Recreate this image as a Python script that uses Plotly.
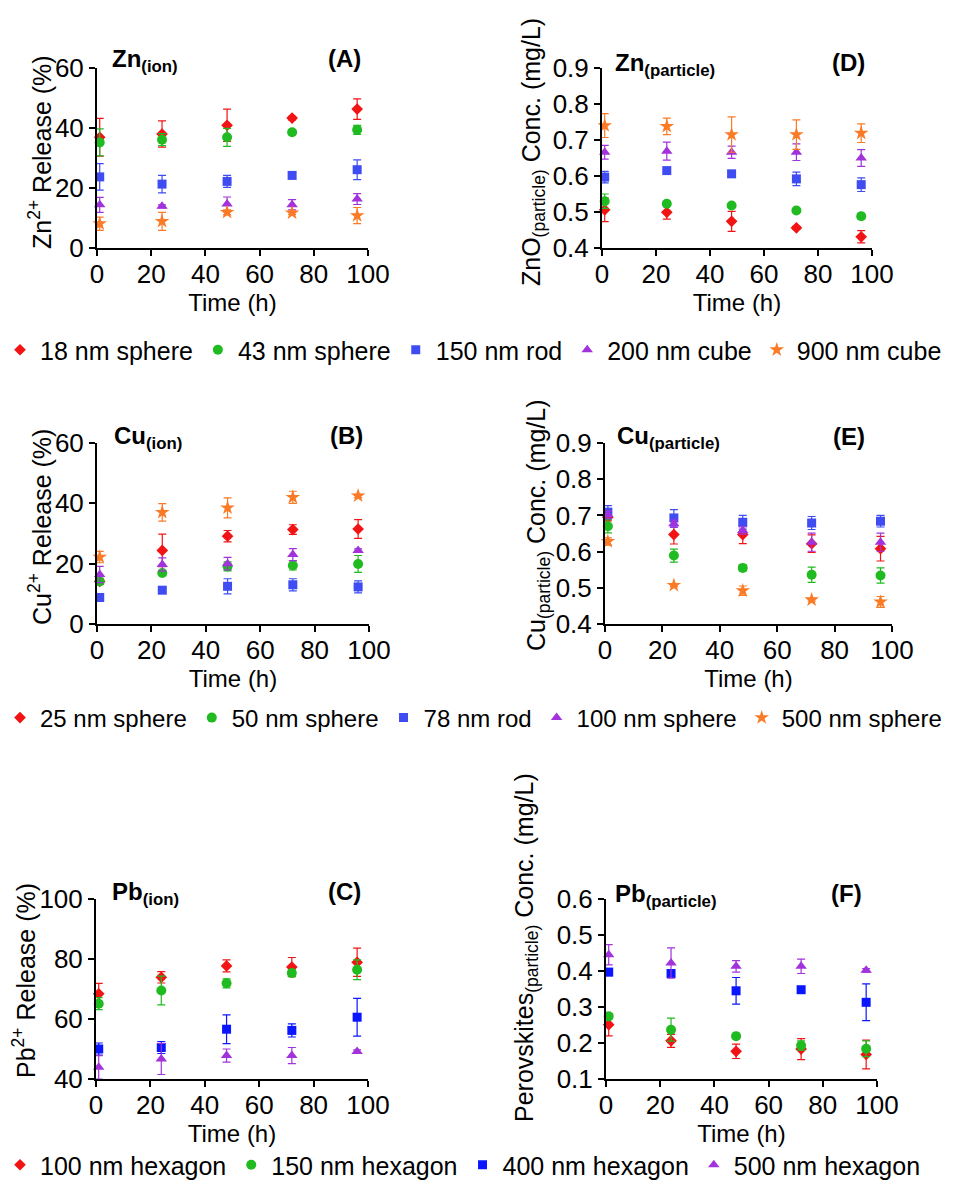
import plotly.graph_objects as go

# ---------------- data ----------------
t = [1, 24, 48, 72, 96]

# Panel A: Zn ion release (%)
zn_ion_labels = ["18 nm sphere", "43 nm sphere", "150 nm rod", "200 nm cube", "900 nm cube"]
zn_ion_18 = [36.9, 38.0, 40.9, 43.3, 46.3]
zn_ion_18_err = [6.3, 4.4, 5.4, 0.6, 3.4]
zn_ion_43 = [35.2, 36.1, 36.9, 38.6, 39.4]
zn_ion_43_err = [4.5, 2.0, 3.0, 0.8, 1.5]
zn_ion_150 = [23.7, 21.3, 22.2, 24.2, 26.1]
zn_ion_150_err = [4.4, 2.9, 2.0, 0.8, 3.3]
zn_ion_200 = [14.4, 13.9, 14.7, 14.4, 16.3]
zn_ion_200_err = [2.5, 0.5, 2.3, 1.7, 1.8]
zn_ion_900 = [8.1, 8.9, 11.9, 11.7, 10.8]
zn_ion_900_err = [2.2, 3.0, 0.8, 0.5, 2.7]

# Panel D: ZnO particle conc. (mg/L)
zn_par_18 = [0.506, 0.499, 0.474, 0.456, 0.431]
zn_par_18_err = [0.033, 0.019, 0.028, 0.004, 0.017]
zn_par_43 = [0.530, 0.523, 0.518, 0.504, 0.488]
zn_par_43_err = [0.020, 0.005, 0.004, 0.004, 0.008]
zn_par_150 = [0.597, 0.615, 0.606, 0.592, 0.576]
zn_par_150_err = [0.016, 0.005, 0.006, 0.019, 0.019]
zn_par_200 = [0.666, 0.669, 0.666, 0.666, 0.650]
zn_par_200_err = [0.019, 0.025, 0.017, 0.023, 0.023]
zn_par_900 = [0.740, 0.738, 0.715, 0.715, 0.719]
zn_par_900_err = [0.033, 0.023, 0.049, 0.041, 0.026]

# Panel B: Cu ion release (%)
cu_ion_labels = ["25 nm sphere", "50 nm sphere", "78 nm rod", "100 nm sphere", "500 nm sphere"]
cu_ion_25 = [14.1, 24.4, 29.1, 31.3, 31.5]
cu_ion_25_err = [1.0, 5.4, 1.9, 1.6, 3.1]
cu_ion_50 = [14.1, 16.9, 19.1, 19.4, 19.9]
cu_ion_50_err = [0.6, 0.5, 1.5, 1.5, 2.8]
cu_ion_78 = [8.8, 11.2, 12.5, 13.0, 12.3]
cu_ion_78_err = [1.3, 0.5, 2.5, 2.0, 2.0]
cu_ion_100 = [16.4, 19.7, 20.0, 23.0, 24.4]
cu_ion_100_err = [2.7, 2.2, 2.1, 2.0, 0.5]
cu_ion_500 = [22.2, 37.0, 38.5, 42.0, 42.5]
cu_ion_500_err = [1.9, 2.9, 3.3, 2.0, 0.5]

# Panel E: Cu particle conc. (mg/L)
cu_par_25 = [0.695, 0.647, 0.647, 0.622, 0.608]
cu_par_25_err = [0.010, 0.026, 0.025, 0.024, 0.034]
cu_par_50 = [0.670, 0.589, 0.555, 0.536, 0.534]
cu_par_50_err = [0.018, 0.018, 0.008, 0.021, 0.021]
cu_par_78 = [0.709, 0.693, 0.681, 0.679, 0.684]
cu_par_78_err = [0.018, 0.023, 0.019, 0.018, 0.016]
cu_par_100 = [0.702, 0.677, 0.658, 0.626, 0.626]
cu_par_100_err = [0.010, 0.010, 0.010, 0.025, 0.025]
cu_par_500 = [0.628, 0.507, 0.492, 0.467, 0.461]
cu_par_500_err = [0.010, 0.004, 0.013, 0.004, 0.015]

# Panel C: Pb ion release (%)
pb_ion_labels = ["100 nm hexagon", "150 nm hexagon", "400 nm hexagon", "500 nm hexagon"]
pb_ion_100 = [68.4, 73.9, 77.7, 77.3, 78.9]
pb_ion_100_err = [3.5, 1.9, 2.0, 3.2, 4.7]
pb_ion_150 = [65.1, 69.5, 71.9, 75.3, 76.4]
pb_ion_150_err = [2.0, 4.8, 1.5, 1.0, 3.3]
pb_ion_400 = [50.0, 50.5, 56.6, 56.2, 60.6]
pb_ion_400_err = [2.0, 2.0, 4.8, 2.2, 6.3]
pb_ion_500 = [43.9, 46.7, 47.8, 47.8, 49.2]
pb_ion_500_err = [3.9, 5.2, 2.2, 2.7, 0.5]

# Panel F: Perovskite particle conc. (mg/L)
pb_par_100 = [0.251, 0.206, 0.177, 0.183, 0.168]
pb_par_100_err = [0.031, 0.018, 0.020, 0.029, 0.040]
pb_par_150 = [0.274, 0.237, 0.219, 0.193, 0.184]
pb_par_150_err = [0.005, 0.032, 0.004, 0.013, 0.022]
pb_par_400 = [0.397, 0.393, 0.345, 0.348, 0.313]
pb_par_400_err = [0.010, 0.005, 0.037, 0.005, 0.051]
pb_par_500 = [0.445, 0.422, 0.413, 0.413, 0.402]
pb_par_500_err = [0.028, 0.042, 0.016, 0.020, 0.005]

# ---------------- styles ----------------
RED = "#f21414"
GREEN = "#20bb20"
BLUE_L = "#3e4cf2"
BLUE_D = "#0a16ff"
PURPLE = "#a232dc"
ORANGE = "#fb7a26"
FONT = "Liberation Sans, Arial, sans-serif"

W, H = 968, 1191


def px_x(p):
    return p / W


def px_y(p):
    return 1 - p / H


fig = go.Figure()

panels = {
    # name: (axis id, x px range, y px range, y range, dtick)
    "A": ("", (97, 368), (68, 248), [0, 60], 20),
    "D": ("2", (602, 872), (68, 248), [0.4, 0.9], 0.1),
    "B": ("3", (97, 369), (443, 624), [0, 60], 20),
    "E": ("4", (605, 892), (443, 624), [0.4, 0.9], 0.1),
    "C": ("5", (96, 368), (899, 1079), [40, 100], 20),
    "F": ("6", (606, 877), (899, 1079), [0.1, 0.6], 0.1),
}

symbols = ["diamond", "circle", "square", "triangle-up", "star"]
sizes = [9, 10, 9, 10, 11]


def add_series(panel, ys, errs, labels, colors, legend, show):
    ax = panels[panel][0]
    for i, (y, e, lab, col) in enumerate(zip(ys, errs, labels, colors)):
        fig.add_trace(go.Scatter(
            x=t, y=y, mode="markers", name=lab,
            marker=dict(symbol=symbols[i], size=sizes[i], color=col, line=dict(width=0)),
            error_y=dict(type="data", array=e, visible=True, color=col, thickness=1.2, width=4),
            xaxis="x" + ax, yaxis="y" + ax,
            legend=legend, showlegend=show, legendgroup=legend + lab,
            cliponaxis=False,
        ))


zn_colors = [RED, GREEN, BLUE_L, PURPLE, ORANGE]
cu_colors = [RED, GREEN, BLUE_L, PURPLE, ORANGE]
pb_colors = [RED, GREEN, BLUE_D, PURPLE]

add_series("A", [zn_ion_18, zn_ion_43, zn_ion_150, zn_ion_200, zn_ion_900],
           [zn_ion_18_err, zn_ion_43_err, zn_ion_150_err, zn_ion_200_err, zn_ion_900_err],
           zn_ion_labels, zn_colors, "legend", True)
add_series("D", [zn_par_18, zn_par_43, zn_par_150, zn_par_200, zn_par_900],
           [zn_par_18_err, zn_par_43_err, zn_par_150_err, zn_par_200_err, zn_par_900_err],
           zn_ion_labels, zn_colors, "legend", False)
add_series("B", [cu_ion_25, cu_ion_50, cu_ion_78, cu_ion_100, cu_ion_500],
           [cu_ion_25_err, cu_ion_50_err, cu_ion_78_err, cu_ion_100_err, cu_ion_500_err],
           cu_ion_labels, cu_colors, "legend2", True)
add_series("E", [cu_par_25, cu_par_50, cu_par_78, cu_par_100, cu_par_500],
           [cu_par_25_err, cu_par_50_err, cu_par_78_err, cu_par_100_err, cu_par_500_err],
           cu_ion_labels, cu_colors, "legend2", False)
add_series("C", [pb_ion_100, pb_ion_150, pb_ion_400, pb_ion_500],
           [pb_ion_100_err, pb_ion_150_err, pb_ion_400_err, pb_ion_500_err],
           pb_ion_labels, pb_colors, "legend3", True)
add_series("F", [pb_par_100, pb_par_150, pb_par_400, pb_par_500],
           [pb_par_100_err, pb_par_150_err, pb_par_400_err, pb_par_500_err],
           pb_ion_labels, pb_colors, "legend3", False)

layout = dict(
    template="none",
    width=W, height=H,
    margin=dict(l=0, r=0, t=0, b=0, pad=0, autoexpand=False),
    paper_bgcolor="white", plot_bgcolor="white",
    font=dict(family=FONT, color="black", size=24),
    showlegend=True,
)

for name, (ax, (x0, x1), (y0, y1), yr, dt) in panels.items():
    xa = dict(domain=[px_x(x0), px_x(x1)], range=[0, 100], dtick=20, tick0=0,
              showline=True, linecolor="black", linewidth=2, ticks="outside",
              ticklen=6, tickwidth=2, tickcolor="black", showgrid=False, zeroline=False,
              automargin=False, ticklabelstandoff=-4,
              tickfont=dict(size=26, family=FONT), anchor="y" + ax,
              title=dict(text="Time (h)", font=dict(size=24, family=FONT), standoff=0))
    ya = dict(domain=[px_y(y1), px_y(y0)], range=yr, dtick=dt, tick0=yr[0],
              showline=True, linecolor="black", linewidth=2, ticks="outside",
              ticklen=6, tickwidth=2, tickcolor="black", showgrid=False, zeroline=False,
              automargin=False,
              tickfont=dict(size=26, family=FONT), anchor="x" + ax,
              tickformat=".1f" if dt < 1 else "d")
    layout["xaxis" + ax] = xa
    layout["yaxis" + ax] = ya

leg_common = dict(orientation="h", xanchor="left", yanchor="middle",
                  bgcolor="rgba(0,0,0,0)", font=dict(size=25, family=FONT),
                  itemclick=False, itemdoubleclick=False, borderwidth=0)
layout["legend"] = dict(leg_common, x=0.0, y=px_y(350))
layout["legend2"] = dict(leg_common, x=0.0, y=px_y(718), font=dict(size=24, family=FONT))
layout["legend3"] = dict(leg_common, x=0.0, y=px_y(1165))

fig.update_layout(**layout)

# y-axis titles (rotated text)
ytitles = [
    ("Zn<sup>2+</sup> Release (%)", 40, 152),
    ("ZnO<sub>(particle)</sub> Conc. (mg/L)", 533, 152),
    ("Cu<sup>2+</sup> Release (%)", 40, 527),
    ("Cu<sub>(particle)</sub> Conc. (mg/L)", 538, 526),
    ("Pb<sup>2+</sup> Release (%)", 24, 981),
    ("Perovskites<sub>(particle)</sub> Conc. (mg/L)", 526, 948),
]
for txt, xp, yp in ytitles:
    fig.add_annotation(text=txt, x=px_x(xp), y=px_y(yp), xref="paper", yref="paper",
                       textangle=-90, showarrow=False, xanchor="center", yanchor="middle",
                       font=dict(size=25, family=FONT))

# panel titles
ptitles = [
    ("<b>Zn<sub>(ion)</sub></b>", 110, 60, "(A)", 363),
    ("<b>Zn<sub>(particle)</sub></b>", 613, 64, "(D)", 867),
    ("<b>Cu<sub>(ion)</sub></b>", 112, 437, "(B)", 365),
    ("<b>Cu<sub>(particle)</sub></b>", 615, 438, "(E)", 867),
    ("<b>Pb<sub>(ion)</sub></b>", 110, 893, "(C)", 363),
    ("<b>Pb<sub>(particle)</sub></b>", 613, 895, "(F)", 864),
]
for txt, xl, yp, lab, xr in ptitles:
    fig.add_annotation(text=txt, x=px_x(xl), y=px_y(yp), xref="paper", yref="paper",
                       showarrow=False, xanchor="left", yanchor="middle",
                       font=dict(size=24, family=FONT))
    fig.add_annotation(text="<b>" + lab + "</b>", x=px_x(xr), y=px_y(yp - 2), xref="paper",
                       yref="paper", showarrow=False, xanchor="right", yanchor="middle",
                       font=dict(size=24, family=FONT))

fig.write_html("out.html", config={"displayModeBar": False},
               post_script="document.body.style.margin='0';document.body.style.overflow='hidden';")
